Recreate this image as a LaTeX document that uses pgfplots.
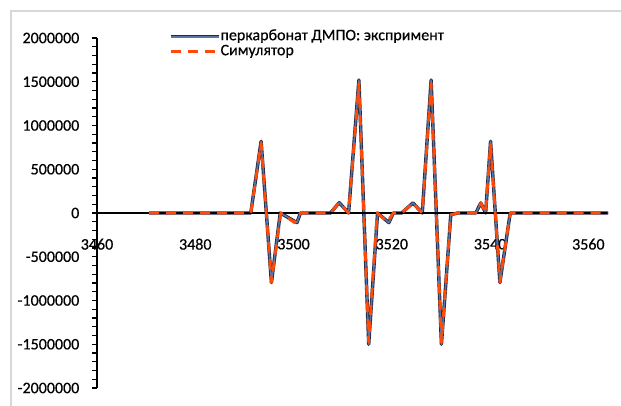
\documentclass[border=0pt]{standalone}
\usepackage{fontspec}
\setmainfont{Carlito}[FakeBold=0.5]
\usepackage{pgfplots}
\pgfplotsset{compat=1.18}
\definecolor{navyc}{RGB}{31,42,72}
\definecolor{steelc}{RGB}{90,118,165}
\definecolor{orangec}{RGB}{255,75,10}
\definecolor{framec}{RGB}{215,215,215}
\newcommand{\lblfont}{\fontsize{16}{19}\selectfont}
\begin{document}
\begin{tikzpicture}
\path[use as bounding box] (-97pt,-17pt) rectangle (524pt,388pt);
\draw[framec, line width=2pt] (-85.7pt,-20pt) -- (-85.7pt,376.7pt) -- (530pt,376.7pt);
\begin{axis}[
  at={(0pt,0pt)}, anchor=south west,
  width=511pt, height=350pt, scale only axis,
  xmin=3460, xmax=3564, ymin=-2000000, ymax=2000000,
  clip=false,
  axis x line=middle, axis y line=left,
  axis line style={-},
  x axis line style={draw=none},
  y axis line style={line width=1.8pt, black},
  hide obscured x ticks=false, hide obscured y ticks=false,
  xtick={3460,3480,3500,3520,3540,3560},
  xticklabels={3460,3480,3500,3520,3540,3560},
  ytick={-2000000,-1500000,-1000000,-500000,0,500000,1000000,1500000,2000000},
  yticklabels={-2000000,-1500000,-1000000,-500000,0,500000,1000000,1500000,2000000},
  scaled y ticks=false, scaled x ticks=false,
  minor y tick num=4,
  tick align=outside,
  major tick length=4.5pt, minor tick length=4.5pt,
  every tick/.style={black, line width=1.4pt},
  every x tick/.style={draw=none},
  xticklabel style={anchor=center, inner sep=0pt, yshift=-26.7pt, font=\lblfont},
  yticklabel style={anchor=east, inner sep=0pt, xshift=-13pt, font=\lblfont},
  legend style={at={(axis description cs:0.1409,1.0257)}, anchor=north west,
    draw=none, fill=none, inner sep=0pt, font=\lblfont, cells={anchor=west},
    nodes={inner sep=0pt, text height=11pt, text depth=4pt}},
  legend image code/.code={\draw[#1] (0pt,0pt) -- (48pt,0pt);},
  /tikz/every even column/.append style={column sep=2pt},
]
\addplot[draw=navyc, double=steelc, double distance=1.6pt, line width=0.9pt, line join=round] coordinates {
(3470.6,0) (3491.3,0) (3493.4,820000) (3495.5,-795000) (3497.3,0) (3500.7,-110000) (3501.4,0)
(3507.5,0) (3509.3,118000) (3511.2,0) (3513.3,1520000) (3515.3,-1500000) (3517.1,0)
(3519.4,-110000) (3520.3,0) (3522.0,0) (3524.3,115000) (3526.2,0) (3528.0,1520000)
(3530.1,-1500000) (3532.0,-20000) (3533.4,0) (3537.1,0) (3538.1,115000) (3539.1,0)
(3540.1,820000) (3542.0,-795000) (3544.1,0) (3564,0)};
\addlegendentry{перкарбонат ДМПО: экспримент}
\addplot[black, line width=2pt, forget plot] coordinates {(3460,0) (3564,0)};
\addplot[orangec, line width=2.8pt, dash pattern=on 10pt off 7pt, line join=round] coordinates {
(3470.6,0) (3491.3,0) (3493.4,800000) (3495.5,-790000) (3497.4,0) (3500.2,-110000) (3501.4,0)
(3507.5,0) (3509.3,118000) (3511.2,0) (3513.3,1480000) (3515.3,-1480000) (3517.0,0)
(3519.1,-100000) (3520.3,0) (3522.0,0) (3524.3,115000) (3526.2,0) (3528.0,1480000)
(3530.1,-1480000) (3532.0,-20000) (3533.4,0) (3537.1,0) (3538.1,115000) (3539.1,0)
(3540.1,800000) (3542.0,-790000) (3544.1,0) (3564,0)};
\addlegendentry{Симулятор}
\end{axis}
\end{tikzpicture}
\end{document}
